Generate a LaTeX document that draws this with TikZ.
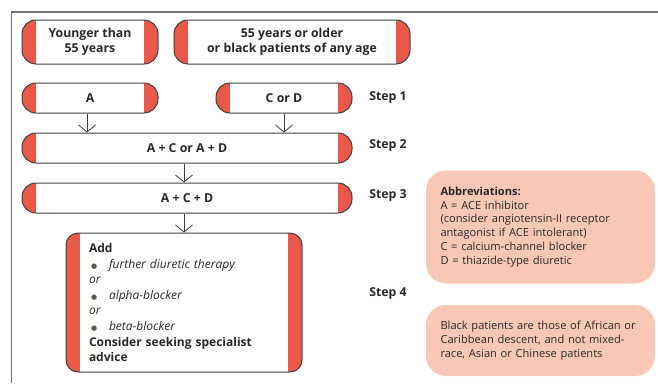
\documentclass[tikz,border=0pt]{standalone}
\usepackage{fontspec}
\setmainfont{Open Sans}
\newfontfamily\dotfont{DejaVu Sans}
\usetikzlibrary{arrows.meta,positioning}
\definecolor{capred}{RGB}{234,88,74}
\definecolor{notefill}{RGB}{248,199,181}
\definecolor{boxline}{RGB}{64,64,64}
\definecolor{framegray}{RGB}{115,115,115}
\definecolor{textdark}{RGB}{40,40,40}
\newcommand{\itemdot}{\makebox[20pt][l]{\hspace{2pt}\textcolor{black!65}{\dotfont\fontsize{7}{7}\selectfont ●}}}

\begin{document}
\begin{tikzpicture}[x=1pt, y=-1pt, >={Straight Barb[length=7pt,width=17pt]},
  pill/.style={draw=boxline, line width=1pt, rounded corners=14pt, fill=white, inner sep=0pt,
    align=center, text=textdark, font=\bfseries\fontsize{12.3}{14.5}\selectfont, minimum height=30pt,
    path picture={
      \fill[capred, sharp corners] (path picture bounding box.south west) rectangle ([xshift=14pt]path picture bounding box.north west);
      \fill[capred, sharp corners] (path picture bounding box.south east) rectangle ([xshift=-14pt]path picture bounding box.north east);}},
  addbox/.style={pill, rounded corners=12pt, align=left, text width=190pt, font=\fontsize{12}{15.6}\selectfont},
  steplab/.style={font=\bfseries\fontsize{12.3}{14}\selectfont, text=textdark},
  note/.style={fill=notefill, rounded corners=20pt, inner sep=0pt, minimum width=229pt, text width=200pt,
    align=left, text=textdark, font=\fontsize{11.1}{13.8}\selectfont},
  arr/.style={->, line width=0.8pt, draw=boxline},
]
\useasboundingbox (0,0) rectangle (658,383);
\draw[framegray, line width=1.2pt] (11.5,383) -- (11.5,12) -- (658,12);

\node[pill, minimum width=136pt, minimum height=44pt] (young) at (90,42) {Younger than\\55 years};
\node[pill, minimum width=236pt, minimum height=44pt] (older) at (292,42) {55 years or older\\or black patients of any age};
\node[pill, minimum width=136pt] (nA) at (90,98) {A};
\node[pill, minimum width=136pt] (nCD) at (284,98) {C or D};
\node[pill, minimum width=330pt] (nAC) at (187,148) {A + C or A + D};
\node[pill, minimum width=330pt] (nACD) at (187,198) {A + C + D};
\node[addbox, minimum width=236pt, minimum height=139pt] (nAdd) at (184,302.5) {%
  \textbf{Add}\\
  \itemdot\textit{further diuretic therapy}\\
  \textit{or}\\
  \itemdot\textit{alpha-blocker}\\
  \textit{or}\\
  \itemdot\textit{beta-blocker}\\
  \textbf{Consider seeking specialist}\\
  \textbf{advice}};

\node[steplab] (s1) at (388,98) {Step 1};
\node[steplab] (s2) at (388,146) {Step 2};
\node[steplab] (s3) at (388,196) {Step 3};
\node[steplab] (s4) at (388,294) {Step 4};

\node[note, minimum height=113pt] (abbr) at (540.5,227) {%
  \textbf{Abbreviations:}\\
  A = ACE inhibitor\\
  (consider angiotensin-II receptor\\
  antagonist if ACE intolerant)\\
  C = calcium-channel blocker\\
  D = thiazide-type diuretic};
\node[note, minimum height=71pt] (black) at (540.5,340.5) {%
  Black patients are those of African or\\
  Caribbean descent, and not mixed-\\
  race, Asian or Chinese patients};

\draw[arr] ([xshift=-3pt]nA.south) -- ([xshift=-3pt]nA.south |- nAC.north);
\draw[arr] (nCD.south) -- (nCD.south |- nAC.north);
\draw[arr] (nAdd.north |- nAC.south) -- (nAdd.north |- nACD.north);
\draw[arr] (nAdd.north |- nACD.south) -- (nAdd.north);
\end{tikzpicture}
\end{document}
